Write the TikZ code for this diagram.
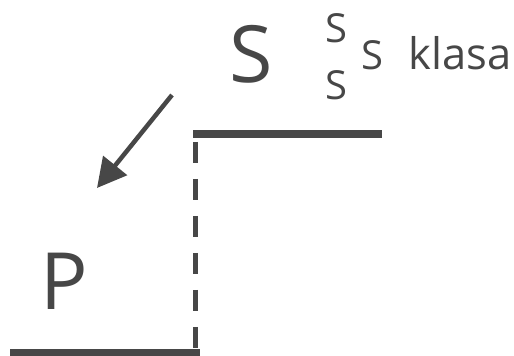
\documentclass[tikz,border=0pt]{standalone}
\usepackage{fontspec}
\setmainfont{Open Sans}
\usetikzlibrary{arrows.meta}
\definecolor{ink}{HTML}{474747}
\begin{document}
\begin{tikzpicture}[x=1pt,y=1pt,
  level/.style={line width=7.5pt, draw=ink},
  jump/.style={line width=4.5pt, draw=ink, dash pattern=on 21pt off 16pt},
  pointer/.style={line width=4.5pt, draw=ink, fill=ink,
    -{Triangle[length=29pt,width=30pt]}},
  bigletter/.style={text=ink, inner sep=0pt, anchor=base,
    font=\fontsize{79}{79}\selectfont},
  smallletter/.style={text=ink, inner sep=0pt, anchor=base,
    font=\fontsize{40}{40}\selectfont},
  word/.style={text=ink, inner sep=0pt, anchor=base west,
    font=\fontsize{43.5}{43.5}\selectfont}]
\useasboundingbox (0,0) rectangle (514,356);

% upper and lower levels
\coordinate (upL) at (193,222);
\coordinate (upR) at (382,222);
\coordinate (lowL) at (10,3);
\coordinate (lowR) at (200,3);
\draw[level] (upL) -- (upR);
\draw[level] (lowL) -- (lowR);

% dashed drop between the levels
\coordinate (dropTop) at (195.5,214);
\coordinate (dropBot) at (195.5,8);
\draw[jump] (dropTop) -- (dropBot);

% arrow pointing down towards P
\coordinate (arrFrom) at (172,261);
\coordinate (arrTo) at (97,168);
\draw[pointer] (arrFrom) -- (arrTo);

% labels
\node[bigletter] (bigS) at (251,273) {S};
\node[bigletter] (bigP) at (64,46) {P};
\node[smallletter] (sUp) at (336,313) {S};
\node[smallletter] (sMid) at (372.5,286) {S};
\node[smallletter] (sLow) at (336,256) {S};
\node[word] (klasa) at (408.5,286) {klasa};
\end{tikzpicture}
\end{document}
